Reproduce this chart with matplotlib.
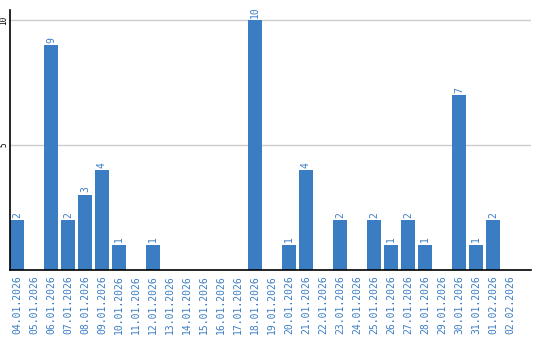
import matplotlib
matplotlib.use('Agg')
import matplotlib.pyplot as plt
import numpy as np

dates = ["04.01.2026", "05.01.2026", "06.01.2026", "07.01.2026", "08.01.2026",
         "09.01.2026", "10.01.2026", "11.01.2026", "12.01.2026", "13.01.2026",
         "14.01.2026", "15.01.2026", "16.01.2026", "17.01.2026", "18.01.2026",
         "19.01.2026", "20.01.2026", "21.01.2026", "22.01.2026", "23.01.2026",
         "24.01.2026", "25.01.2026", "26.01.2026", "27.01.2026", "28.01.2026",
         "29.01.2026", "30.01.2026", "31.01.2026", "01.02.2026", "02.02.2026"]
counts = [2, 0, 9, 2, 3, 4, 1, 0, 1, 0,
          0, 0, 0, 0, 10, 0, 1, 4, 0, 2,
          0, 2, 1, 2, 1, 0, 7, 1, 2, 0]
yticks = [5, 10]

bar_color = "#3b7dc3"
text_color = "#3b7dc3"

fig = plt.figure(figsize=(5.4, 3.4), dpi=100)
ax = fig.add_axes([10 / 540, 70 / 340, 521 / 540, 260 / 340])

x = np.arange(len(dates))
ax.bar(x + 0.41, counts, width=0.82, color=bar_color, zorder=2)

for xi, c in zip(x, counts):
    if c > 0:
        ax.text(xi + 0.41, c + 0.1, str(c), rotation=90, ha='center', va='bottom',
                color=text_color, fontsize=7, family='DejaVu Sans Mono')

ax.set_xlim(0, 521 / 17)
ax.set_ylim(0, 10.4)
ax.set_yticks(yticks)
ax.set_yticklabels([str(t) for t in yticks], rotation=90, va='center',
                   fontsize=5.5, family='DejaVu Sans Mono')
ax.tick_params(axis='y', length=0, pad=1)
ax.set_xticks(x + 0.41)
ax.set_xticklabels(dates, rotation=90, fontsize=7, family='DejaVu Sans Mono',
                   color=text_color)
ax.tick_params(axis='x', length=0, pad=4)

ax.grid(axis='y', color='#cccccc', linewidth=1, zorder=0)
for s in ['top', 'right']:
    ax.spines[s].set_visible(False)
ax.spines['left'].set_color('black')
ax.spines['bottom'].set_color('black')
ax.spines['left'].set_linewidth(1.2)
ax.spines['bottom'].set_linewidth(1.2)
ax.spines['bottom'].set_zorder(3)

plt.savefig("out.png", dpi=100)
